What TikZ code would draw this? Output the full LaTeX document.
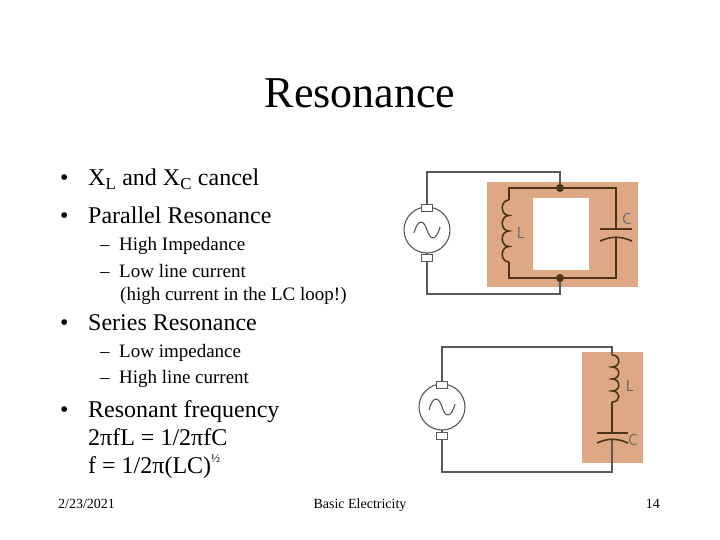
\documentclass[tikz,border=0pt]{standalone}
\usepackage{fontspec}
\setmainfont{Liberation Serif}
\definecolor{shadec}{RGB}{222,168,132}
\begin{document}
\begin{tikzpicture}[x=1pt,y=-1pt,
  txt/.style={anchor=base west,inner sep=0pt},
  wire/.style={draw=black!65,line width=1.1pt},
  lwire/.style={draw=black!60!brown,line width=1.6pt},
  gen/.style={circle,draw=black!65,line width=1.1pt,minimum size=46pt,inner sep=0pt},
  tab/.style={draw=black!65,line width=1pt,fill=white,minimum width=11pt,minimum height=7pt,inner sep=0pt},
  shade/.style={fill=shadec},
  dot/.style={circle,fill=black!60!brown,inner sep=0pt,minimum size=8pt},
  lbl/.style={font=\sffamily\fontsize{16}{16}\selectfont,text=black!60,inner sep=0pt}]
\useasboundingbox (0,0) rectangle (720,540);
\fill[white] (0,0) rectangle (720,540);
\node[txt,anchor=base] (title) at (360,108) {\fontsize{44}{44}\selectfont Resonance};
\node[txt] (b1) at (60,186) {\fontsize{24}{24}\selectfont •};
\node[txt] (t1) at (88,186) {\fontsize{24}{24}\selectfont X\textsubscript{L} and X\textsubscript{C} cancel};
\node[txt] (b2) at (60,223) {\fontsize{24}{24}\selectfont •};
\node[txt] (t2) at (88,223) {\fontsize{24}{24}\selectfont Parallel Resonance};
\node[txt] (s1) at (100,251) {\fontsize{19}{19}\selectfont – \ High Impedance};
\node[txt] (s2) at (100,277) {\fontsize{19}{19}\selectfont – \ Low line current};
\node[txt] (s3) at (120,300) {\fontsize{19}{19}\selectfont (high current in the LC loop!)};
\node[txt] (b3) at (60,330) {\fontsize{24}{24}\selectfont •};
\node[txt] (t3) at (88,330) {\fontsize{24}{24}\selectfont Series Resonance};
\node[txt] (s4) at (100,357) {\fontsize{19}{19}\selectfont – \ Low impedance};
\node[txt] (s5) at (100,383) {\fontsize{19}{19}\selectfont – \ High line current};
\node[txt] (b4) at (60,417) {\fontsize{24}{24}\selectfont •};
\node[txt] (t4) at (88,417) {\fontsize{24}{24}\selectfont Resonant frequency};
\node[txt] (t5) at (88,445) {\fontsize{24}{24}\selectfont 2πfL = 1/2πfC};
\node[txt] (t6) at (88,473) {\fontsize{24}{24}\selectfont f = 1/2π(LC)\raisebox{0.45em}{\fontsize{12}{12}\selectfont ½}};
\node[txt] (f1) at (58,508) {\fontsize{14}{14}\selectfont 2/23/2021};
\node[txt,anchor=base] (f2) at (360,508) {\fontsize{14}{14}\selectfont Basic Electricity};
\node[txt,anchor=base east] (f3) at (660,508) {\fontsize{14}{14}\selectfont 14};
% ---- parallel circuit
\fill[shade] (487,182) rectangle (638,287);
\fill[white] (533,198) rectangle (589,270);
\coordinate (g1t) at (427,172);
\coordinate (g1b) at (427,294);
\coordinate (j1) at (560,172);
\coordinate (j2) at (560,294);
\draw[wire] (427,207) -- (g1t) -- (j1) -- (560,188);
\draw[wire] (427,253) -- (g1b) -- (j2) -- (560,278);
\draw[lwire] (509,200) -- (509,188) -- (616,188) -- (616,229);
\draw[lwire] (509,262) -- (509,278) -- (616,278) -- (616,238);
\draw[lwire] (600,229) -- (632,229);
\draw[lwire] (600,241) .. controls (612,236) and (620,236) .. (632,241);
\draw[lwire] (509,200) .. controls (500,200) and (500,215.5) .. (509,215.5)
  .. controls (500,215.5) and (500,231) .. (509,231)
  .. controls (500,231) and (500,246.5) .. (509,246.5)
  .. controls (500,246.5) and (500,262) .. (509,262);
\node[dot] (d1) at (560,188) {};
\node[dot] (d2) at (560,278) {};
\node[lbl] (L1) at (521,233) {L};
\node[lbl] (C1) at (627,219) {C};
\node[gen] (g1) at (427,230) {};
\node[tab] (g1a) at (427,208) {};
\node[tab] (g1c) at (427,258) {};
\draw[wire] (414,233) .. controls (418,218) and (424,220) .. (427,230) .. controls (430,240) and (436,242) .. (440,227);
% ---- series circuit
\fill[shade] (582,352) rectangle (643,463);
\draw[wire] (442,384) -- (442,347) -- (612,347) -- (612,355);
\draw[wire] (442,430) -- (442,472) -- (612,472) -- (612,440);
\draw[lwire] (612,402) -- (612,433);
\draw[lwire] (597,433) -- (628,433);
\draw[lwire] (597,443) .. controls (608,438) and (617,438) .. (628,443);
\draw[lwire] (612,355) .. controls (621,355) and (621,367) .. (612,367)
  .. controls (621,367) and (621,379) .. (612,379)
  .. controls (621,379) and (621,391) .. (612,391)
  .. controls (621,391) and (621,402) .. (612,402);
\node[lbl] (L2) at (630,386) {L};
\node[lbl] (C2) at (633,440) {C};
\node[gen] (g2) at (442,407) {};
\node[tab] (g2a) at (442,385) {};
\node[tab] (g2c) at (442,436) {};
\draw[wire] (429,410) .. controls (433,395) and (439,397) .. (442,407) .. controls (445,417) and (451,419) .. (455,404);
\end{tikzpicture}
\end{document}
